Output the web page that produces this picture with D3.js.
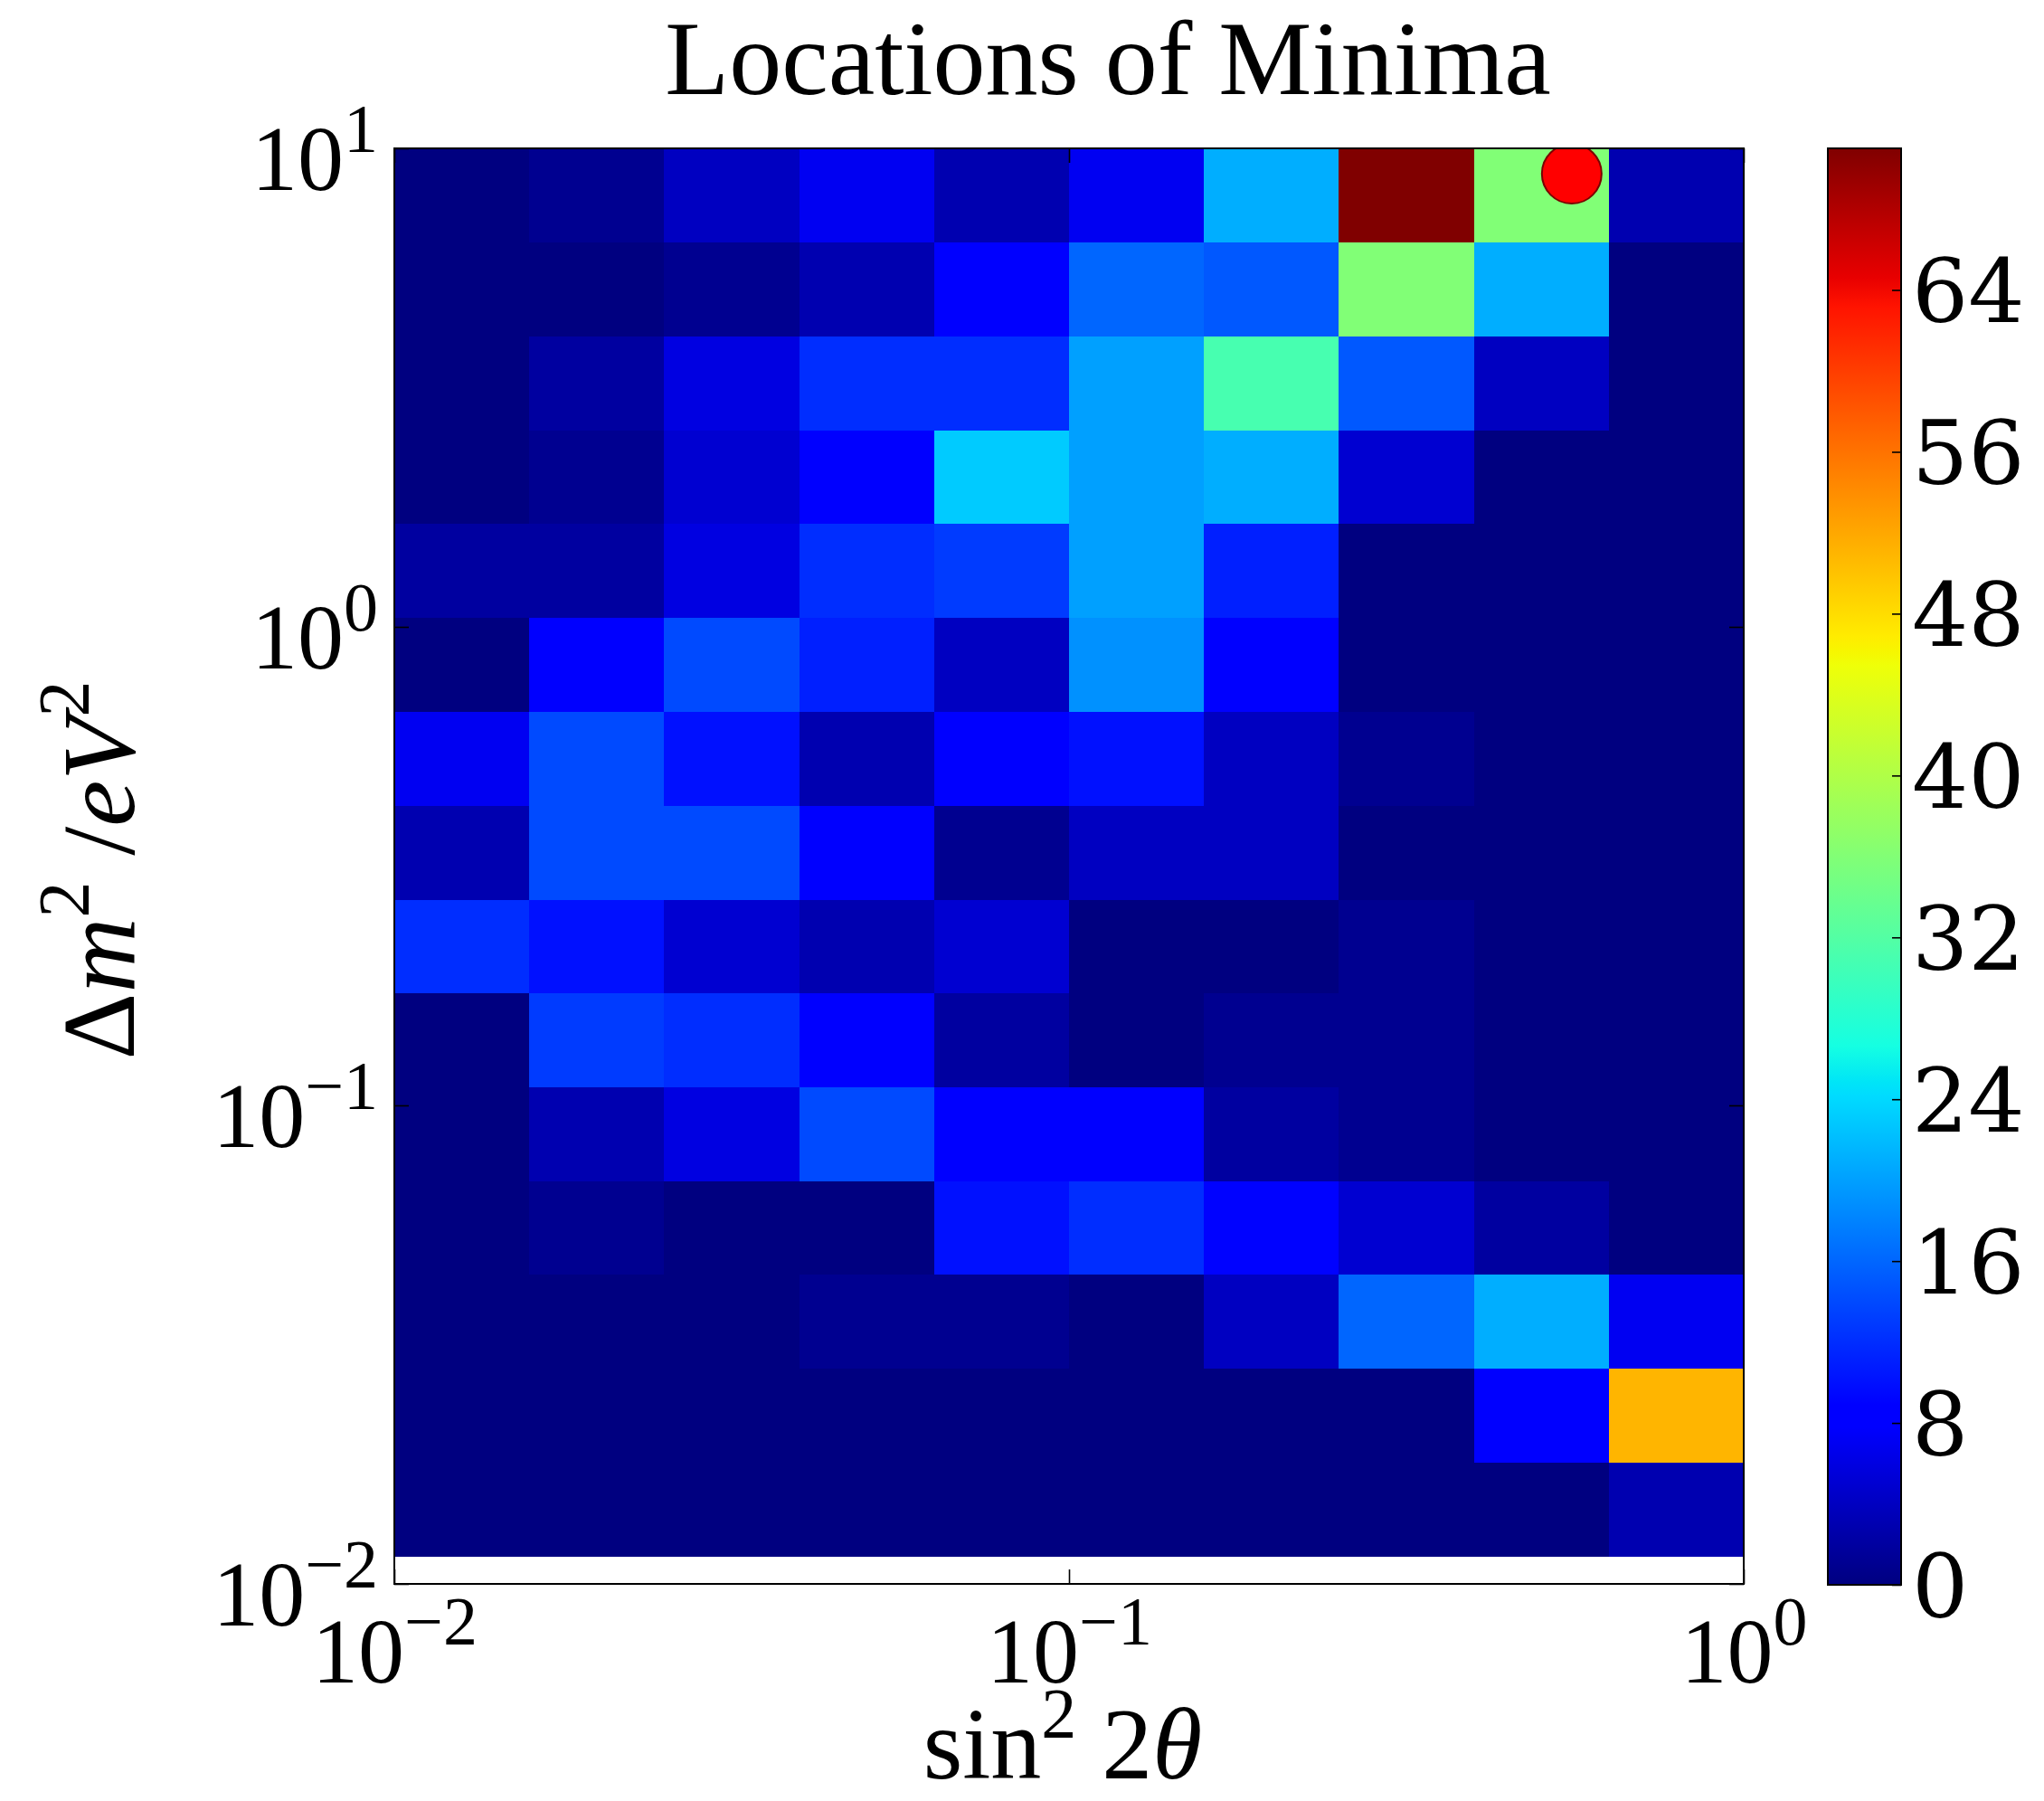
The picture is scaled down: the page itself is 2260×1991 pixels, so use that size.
<!DOCTYPE html>
<html><head><meta charset="utf-8">
<script src="https://cdn.jsdelivr.net/npm/d3@7"></script>
<style>body{margin:0;background:#fff}</style>
</head><body>
<svg id="c" width="2260" height="1991" xmlns="http://www.w3.org/2000/svg"></svg>
<script>
// ---------------- data ----------------
const titleText = "Locations of Minima";
// log10 bin edges of the 2D histogram
const xEdgeExp = [-2, -1.8, -1.6, -1.4, -1.2, -1, -0.8, -0.6, -0.4, -0.2, 0];
const yEdgeExp = [-1.943, -1.747, -1.551, -1.354, -1.158, -0.962, -0.766, -0.570, -0.374, -0.177, 0.019, 0.215, 0.411, 0.607, 0.804, 1.0];
// counts, rows listed from the top bin (highest dm^2) to the bottom bin
const countsTopDown = [
  [0, 1, 4, 7, 3, 7, 21, 71, 36, 3],
  [0, 0, 1, 3, 8, 16, 15, 36, 21, 0],
  [0, 2, 6, 12, 12, 20, 31, 15, 4, 0],
  [0, 1, 5, 8, 23, 20, 21, 5, 0, 0],
  [2, 2, 6, 12, 13, 20, 11, 0, 0, 0],
  [0, 8, 14, 11, 4, 19, 8, 0, 0, 0],
  [7, 14, 10, 3, 8, 10, 4, 1, 0, 0],
  [3, 14, 14, 8, 1, 4, 4, 0, 0, 0],
  [12, 10, 5, 3, 5, 0, 0, 1, 0, 0],
  [0, 13, 12, 8, 2, 0, 1, 1, 0, 0],
  [0, 3, 6, 14, 8, 8, 2, 1, 0, 0],
  [0, 1, 0, 0, 10, 12, 9, 5, 2, 0],
  [0, 0, 0, 1, 1, 0, 4, 16, 21, 7],
  [0, 0, 0, 0, 0, 0, 0, 0, 8, 51],
  [0, 0, 0, 0, 0, 0, 0, 0, 0, 3]
];
const xTickExp = [-2, -1, 0];
const yTickExp = [-2, -1, 0, 1];
const cbTicks = [0, 8, 16, 24, 32, 40, 48, 56, 64];
const cbMax = 71;
const bestFit = [{x: 0.556, y: 8.85}];

// ---------------- layout ----------------
const P = {left: 436, right: 1928, top: 164, bottom: 1751};
const CB = {left: 2021, right: 2102, top: 164, bottom: 1752};
const serif = "'Liberation Serif', 'Times New Roman', serif";
const cbFont = "'DejaVu Serif', serif";

const svg = d3.select("#c");
svg.append("rect").attr("width", 2260).attr("height", 1991).attr("fill", "#fff");

const x = d3.scaleLog().domain([0.01, 1]).range([P.left, P.right]);
const y = d3.scaleLog().domain([0.01, 10]).range([P.bottom, P.top]);

// jet colormap (matplotlib segment data)
const jetKnots = [0, 0.11, 0.125, 0.34, 0.35, 0.375, 0.64, 0.65, 0.66, 0.89, 0.91, 1];
const jr = d3.scaleLinear().domain([0, 0.35, 0.66, 0.89, 1]).range([0, 0, 1, 1, 0.5]).clamp(true);
const jg = d3.scaleLinear().domain([0, 0.125, 0.375, 0.64, 0.91, 1]).range([0, 0, 1, 1, 0, 0]).clamp(true);
const jb = d3.scaleLinear().domain([0, 0.11, 0.34, 0.65, 1]).range([0.5, 1, 1, 0, 0]).clamp(true);
const jet = t => d3.rgb(255 * jr(t), 255 * jg(t), 255 * jb(t)).formatHex();
const color = d3.scaleSequential(jet).domain([0, cbMax]);

// ---------------- heatmap ----------------
const cells = [];
countsTopDown.forEach((row, r) => {
  const k = countsTopDown.length - 1 - r;
  row.forEach((v, c) => cells.push({
    x0: 10 ** xEdgeExp[c], x1: 10 ** xEdgeExp[c + 1],
    y0: 10 ** yEdgeExp[k], y1: 10 ** yEdgeExp[k + 1], v
  }));
});
const defs = svg.append("defs");
defs.append("clipPath").attr("id", "plotclip").append("rect")
  .attr("x", P.left).attr("y", P.top).attr("width", P.right - P.left).attr("height", P.bottom - P.top);

const gCells = svg.append("g").attr("shape-rendering", "crispEdges");
gCells.selectAll("rect").data(cells).join("rect")
  .attr("x", d => x(d.x0))
  .attr("y", d => y(d.y1))
  .attr("width", d => x(d.x1) - x(d.x0) + 0.5)
  .attr("height", d => y(d.y0) - y(d.y1) + 0.5)
  .attr("fill", d => color(d.v));

// best-fit marker
svg.append("g").attr("clip-path", "url(#plotclip)")
  .selectAll("circle").data(bestFit).join("circle")
  .attr("cx", d => x(d.x)).attr("cy", d => y(d.y)).attr("r", 33)
  .attr("fill", "#ff0000").attr("stroke", "#7a0000").attr("stroke-width", 2);

// ---------------- axes ----------------
const tickLen = 16;
function styleAxis(g) {
  g.select(".domain").remove();
  g.selectAll(".tick line").attr("stroke", "#000").attr("stroke-width", 1.6);
}
const xt = xTickExp.map(e => 10 ** e);
const yt = yTickExp.map(e => 10 ** e);

const gx = svg.append("g").attr("transform", `translate(0,${P.bottom})`)
  .call(d3.axisBottom(x).tickValues(xt).tickSize(-tickLen).tickFormat(""));
styleAxis(gx);
svg.append("g").attr("transform", `translate(0,${P.top})`)
  .call(d3.axisTop(x).tickValues(xt).tickSize(-tickLen).tickFormat("")).call(styleAxis);
const gy = svg.append("g").attr("transform", `translate(${P.left},0)`)
  .call(d3.axisLeft(y).tickValues(yt).tickSize(-tickLen).tickFormat(""));
styleAxis(gy);
svg.append("g").attr("transform", `translate(${P.right},0)`)
  .call(d3.axisRight(y).tickValues(yt).tickSize(-tickLen).tickFormat("")).call(styleAxis);

function expLabel(sel, e) {
  sel.append("tspan").text("10");
  sel.append("tspan").attr("font-size", 76).attr("dy", -42)
    .text(e < 0 ? "\u2212" + Math.abs(e) : String(e));
}
gx.selectAll(".tick").each(function(d) {
  const t = d3.select(this).append("text")
    .attr("x", 0).attr("y", 109).attr("text-anchor", "middle")
    .attr("font-family", serif).attr("font-size", 102).attr("fill", "#000");
  expLabel(t, Math.round(Math.log10(d)));
});
gy.selectAll(".tick").each(function(d) {
  const t = d3.select(this).append("text")
    .attr("x", -18).attr("y", 45).attr("text-anchor", "end")
    .attr("font-family", serif).attr("font-size", 102).attr("fill", "#000");
  expLabel(t, Math.round(Math.log10(d)));
});

// frame
svg.append("rect").attr("x", P.left).attr("y", P.top)
  .attr("width", P.right - P.left).attr("height", P.bottom - P.top)
  .attr("fill", "none").attr("stroke", "#000").attr("stroke-width", 2);

// ---------------- title & labels ----------------
svg.append("text").attr("x", 1225).attr("y", 104).attr("text-anchor", "middle")
  .attr("font-family", serif).attr("font-size", 116).attr("fill", "#000").text(titleText);

const xl = svg.append("text").attr("x", 1175).attr("y", 1966).attr("text-anchor", "middle")
  .attr("font-family", serif).attr("font-size", 112).attr("fill", "#000");
xl.append("tspan").text("sin");
xl.append("tspan").attr("font-size", 78).attr("dy", -46).text("2");
xl.append("tspan").attr("dy", 46).text("\u00a02");
xl.append("tspan").attr("font-style", "italic").text("\u03b8");

const yl = svg.append("text").attr("transform", "translate(148,962) rotate(-90)")
  .attr("text-anchor", "middle").attr("font-family", serif).attr("font-size", 115).attr("fill", "#000");
yl.append("tspan").text("\u0394");
yl.append("tspan").attr("font-style", "italic").text("m");
yl.append("tspan").attr("font-size", 80).attr("dy", -50).text("2");
yl.append("tspan").attr("dy", 50).text("\u00a0/");
yl.append("tspan").attr("font-style", "italic").text("eV");
yl.append("tspan").attr("font-size", 80).attr("dy", -50).text("2");

// ---------------- colorbar ----------------
const cb = d3.scaleLinear().domain([0, cbMax]).range([CB.bottom, CB.top]);
const grad = defs.append("linearGradient").attr("id", "jetgrad")
  .attr("x1", 0).attr("y1", 1).attr("x2", 0).attr("y2", 0);
grad.selectAll("stop").data(jetKnots).join("stop")
  .attr("offset", d => d).attr("stop-color", d => jet(d));
svg.append("rect").attr("x", CB.left).attr("y", CB.top)
  .attr("width", CB.right - CB.left).attr("height", CB.bottom - CB.top)
  .attr("fill", "url(#jetgrad)");
const gcb = svg.append("g").attr("transform", `translate(${CB.right},0)`)
  .call(d3.axisRight(cb).tickValues(cbTicks).tickSize(-10).tickFormat(""));
styleAxis(gcb);
gcb.selectAll(".tick").append("text")
  .attr("x", 12).attr("y", 0).attr("dy", "0.36em")
  .attr("font-family", cbFont).attr("font-size", 98).attr("fill", "#000")
  .text(d => d);
svg.append("rect").attr("x", CB.left).attr("y", CB.top)
  .attr("width", CB.right - CB.left).attr("height", CB.bottom - CB.top)
  .attr("fill", "none").attr("stroke", "#000").attr("stroke-width", 2);
</script>
</body></html>
